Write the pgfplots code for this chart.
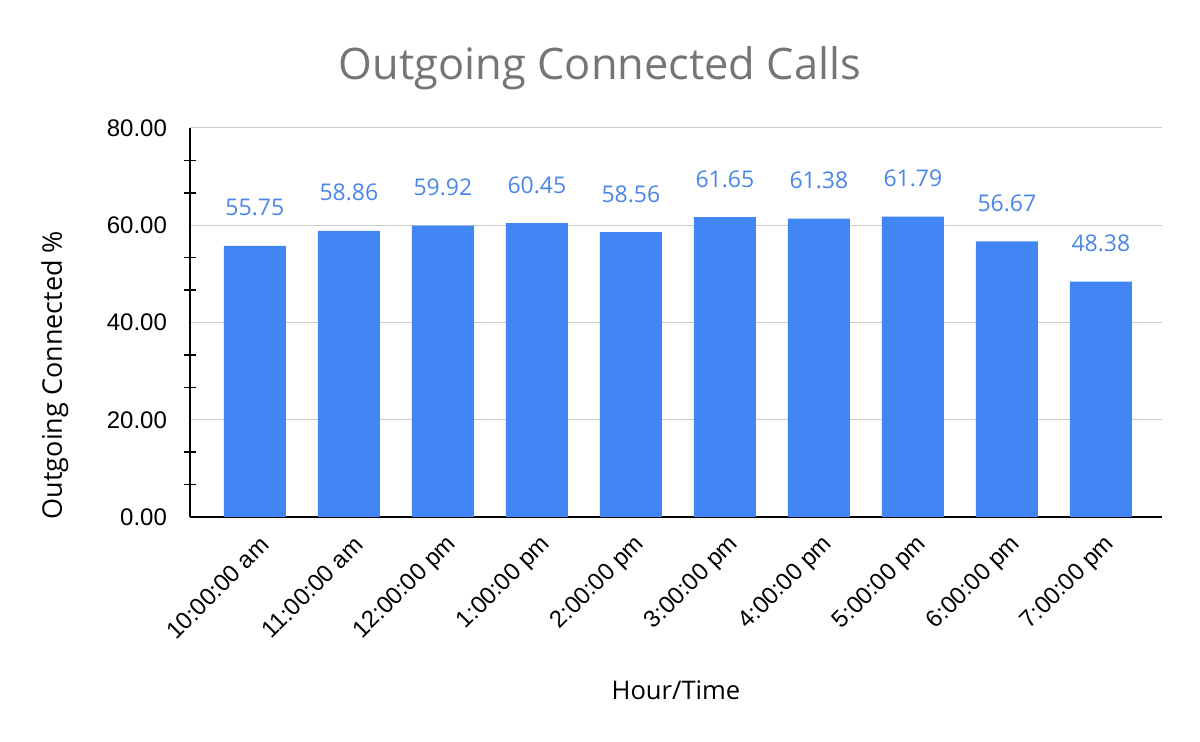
\documentclass[border=0pt]{standalone}
\usepackage{pgfplots}
\pgfplotsset{compat=1.18}
\usepackage{fontspec}
\setmainfont{Liberation Sans}
\newfontfamily\opensans{Open Sans}
\definecolor{barblue}{HTML}{4285F4}
\definecolor{lblblue}{HTML}{4A86E8}
\definecolor{titlegray}{HTML}{757575}
\definecolor{gridgray}{HTML}{CCCCCC}

\begin{document}
\begin{tikzpicture}
\useasboundingbox (-95pt,-112.5pt) rectangle (505pt,258.5pt);
\begin{axis}[
    scale only axis,
    width=486pt, height=194.5pt,
    at={(0,0)}, anchor=south west,
    ybar,
    bar width=0.66,
    xmin=-0.69, xmax=9.65,
    ymin=0, ymax=80,
    enlargelimits=false,
    axis x line*=bottom,
    axis y line*=left,
    axis line style={line width=0.75pt, black},
    xtick=data,
    xticklabels={10:00:00 am,11:00:00 am,12:00:00 pm,1:00:00 pm,2:00:00 pm,3:00:00 pm,4:00:00 pm,5:00:00 pm,6:00:00 pm,7:00:00 pm},
    ytick={0,20,40,60,80},
    minor y tick num=2,
    major tick length=0pt,
    minor tick length=6pt,
    tick align=center,
    tick style={line width=0.75pt, black},
    ymajorgrids=true,
    grid style={line width=0.5pt, gridgray},
    /pgf/number format/assume math mode=true,
    yticklabel={\pgfmathprintnumber[fixed, fixed zerofill, precision=2]{\tick}},
    ticklabel style={font=\fontsize{12}{14}\selectfont, text=black},
    y tick label style={xshift=-8pt},
    x tick label style={xshift=7.4pt, yshift=-9.4pt, rotate=45, anchor=east},
    nodes near coords={\pgfmathprintnumber[fixed, fixed zerofill, precision=2]{\pgfplotspointmeta}},
    nodes near coords style={font=\opensans\fontsize{11.5}{13}\selectfont, text=lblblue, anchor=center, yshift=19pt},
    xlabel={Hour/Time},
    ylabel={Outgoing Connected \%},
    xlabel style={at={(axis description cs:0.5,-0.4447)}, anchor=center, font=\opensans\fontsize{12.8}{15}\selectfont},
    ylabel style={at={(axis description cs:-0.1389,0.365)}, anchor=center, font=\opensans\fontsize{13.5}{15}\selectfont},
    title={Outgoing Connected Calls},
    title style={at={(axis description cs:0.4218,1.123)}, anchor=center, font=\opensans\fontsize{21.7}{25}\selectfont, text=titlegray},
]
\addplot[fill=barblue, draw=none] coordinates {
    (0,55.75) (1,58.86) (2,59.92) (3,60.45) (4,58.56)
    (5,61.65) (6,61.38) (7,61.79) (8,56.67) (9,48.38)
};
\end{axis}
\end{tikzpicture}
\end{document}
